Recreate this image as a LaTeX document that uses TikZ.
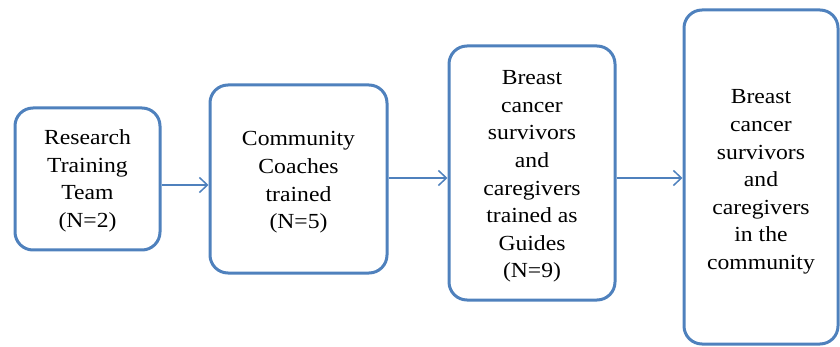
\documentclass[tikz,border=0pt]{standalone}
\usepackage{fontspec}
\setmainfont{Liberation Serif}[FakeStretch=1.1]
\usetikzlibrary{arrows.meta}
\definecolor{boxblue}{HTML}{4F81BD}
\tikzset{
  flowbox/.style={draw=boxblue, line width=3pt, rounded corners=18pt, inner sep=0pt},
  flowtext/.style={align=center, inner sep=0pt, font=\fontsize{21.5}{27.6}\selectfont, text=black},
  arr/.style={draw=boxblue, line width=1.5pt, -{Straight Barb[length=8pt,width=15pt,line width=1.5pt]}}
}
\begin{document}
\begin{tikzpicture}[x=1pt,y=-1pt]
\useasboundingbox (0,0) rectangle (840,347);
\node[flowbox, minimum width=145pt, minimum height=142pt] (b1) at (87.5,179) {};
\node[flowbox, minimum width=177pt, minimum height=188pt] (b2) at (298.5,179) {};
\node[flowbox, minimum width=166pt, minimum height=254pt] (b3) at (532,173) {};
\node[flowbox, minimum width=154pt, minimum height=334pt] (b4) at (761,177) {};
\node[flowtext] (t1) at ([yshift=-2pt]b1.center) {Research\\Training\\Team\\(N=2)};
\node[flowtext] (t2) at ([yshift=-3.5pt]b2.center) {Community\\Coaches\\trained\\(N=5)};
\node[flowtext] (t3) at ([yshift=-3.5pt]b3.center) {Breast\\cancer\\survivors\\and\\caregivers\\trained as\\Guides\\(N=9)};
\node[flowtext] (t4) at ([yshift=-5pt]b4.center) {Breast\\cancer\\survivors\\and\\caregivers\\in the\\community};
\draw[arr] ([yshift=-6pt]b1.east) -- ([yshift=-6pt]b1.east -| b2.west);
\draw[arr] ([yshift=1pt]b2.east) -- ([yshift=1pt]b2.east -| b3.west);
\draw[arr] ([yshift=-5pt]b3.east) -- ([yshift=-5pt]b3.east -| b4.west);
\end{tikzpicture}
\end{document}
